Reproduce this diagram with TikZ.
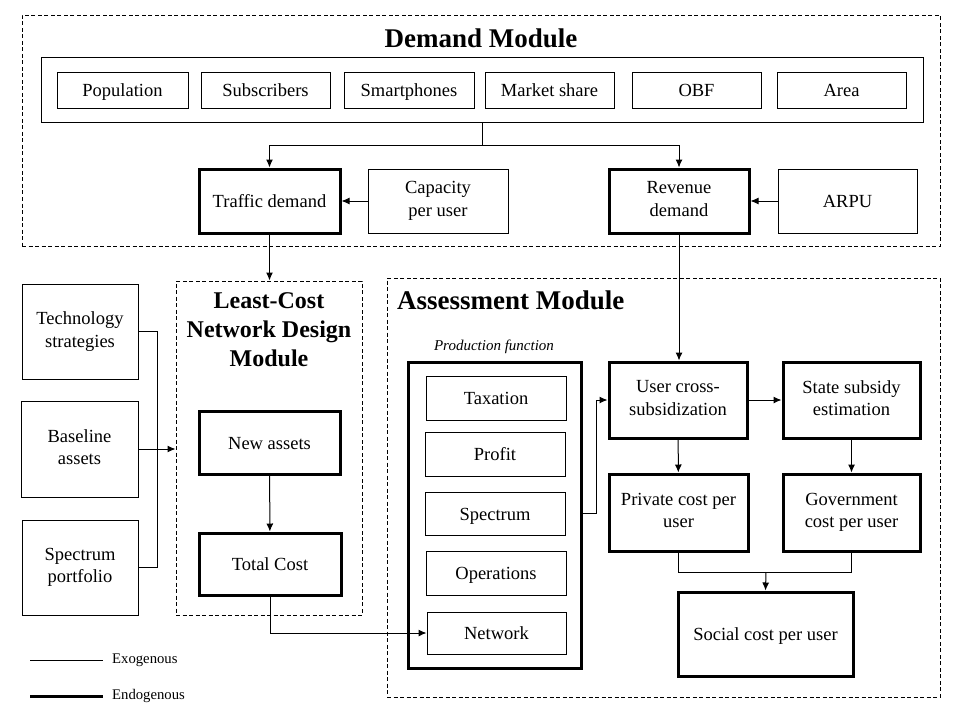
\documentclass[tikz,border=0pt]{standalone}
\usepackage{fontspec}
\setmainfont{Liberation Serif}
\usetikzlibrary{arrows.meta,positioning}
\newcommand\bodyfont{\fontsize{18.5}{22.5}\selectfont}
\newcommand\titlefont{\fontsize{27}{29}\selectfont\bfseries}
\newcommand\lcndfont{\fontsize{24}{29}\selectfont\bfseries}
\newcommand\smallfont{\fontsize{14.7}{17}\selectfont}
\newcommand\boxstrut{\rule[-4pt]{0pt}{21pt}}
\tikzset{
  size/.style 2 args={minimum width=#1pt, minimum height=#2pt},
  exo/.style={draw, line width=1pt, inner sep=0pt, align=center, font=\bodyfont,
    execute at begin node=\boxstrut, execute at end node=\boxstrut},
  endo/.style={exo, line width=3pt},
  module/.style={draw, line width=1pt, dash pattern=on 4pt off 2.5pt, inner sep=0pt},
  link/.style={line width=1pt, -{Latex[length=8pt,width=7pt]}},
  wire/.style={line width=1pt},
  title/.style={font=\titlefont, align=center, inner sep=0pt},
}
\begin{document}
\begin{tikzpicture}[x=1pt,y=-1pt]
  \useasboundingbox (0,0) rectangle (960,720);

  \node[module, size={918}{231}] (demand) at (481,130.5) {};
  \node[title] (demandtitle) at (481,38) {Demand Module};
  \node[exo, size={882}{65}] (inputs) at (482,89.5) {};
  \node[exo, size={131}{36}] (pop) at (122.5,90) {Population};
  \node[exo, size={129}{36}] (subs) at (265.5,90) {Subscribers};
  \node[exo, size={130}{36}] (smart) at (409,90) {Smartphones};
  \node[exo, size={129}{36}] (share) at (549.5,90) {Market share};
  \node[exo, size={129}{36}] (obf) at (696.5,90) {OBF};
  \node[exo, size={129}{36}] (area) at (841.5,90) {Area};

  \node[endo, size={141}{64}] (traffic) at (269.5,201) {Traffic demand};
  \node[exo, size={140}{64}] (capacity) at (438,201) {Capacity\\per user};
  \node[endo, size={140}{64}] (revenue) at (679,201) {Revenue\\demand};
  \node[exo, size={139}{64}] (arpu) at (847.5,201) {ARPU};

  \node[module, size={186}{334}] (lcnd) at (269,448) {};
  \node[title, font=\lcndfont] (lcndtitle) at (269,330) {Least-Cost\\Network Design\\Module};
  \node[endo, size={141}{63}] (newassets) at (269.5,442.5) {New assets};
  \node[endo, size={142}{62}] (total) at (270,564) {Total Cost};

  \node[exo, size={116}{95}] (tech) at (80,331.5) {Technology\\strategies};
  \node[exo, size={117}{96}] (base) at (79.5,449) {Baseline\\assets};
  \node[exo, size={116}{95}] (specport) at (80,567.5) {Spectrum\\portfolio};

  \node[module, size={553}{419}] (assess) at (663.5,487.5) {};
  \node[title, anchor=west] (assesstitle) at (397,300) {Assessment Module};
  \node[font=\fontsize{15}{17}\selectfont\itshape, inner sep=0pt] (prodlabel) at (494,347) {Production function};
  \node[endo, size={173}{306}] (prod) at (494.5,515) {};
  \node[exo, size={140}{44}] (tax) at (496,398) {Taxation};
  \node[exo, size={140}{44}] (profit) at (495,454) {Profit};
  \node[exo, size={140}{43}] (spectrum) at (495,513.5) {Spectrum};
  \node[exo, size={140}{44}] (ops) at (496,573) {Operations};
  \node[exo, size={139}{42}] (network) at (496.5,633) {Network};

  \node[endo, size={138}{76}] (user) at (678,400) {User cross-\\subsidization};
  \node[endo, size={137}{76}] (state) at (851.5,400) {State subsidy\\estimation};
  \node[endo, size={139}{77}] (private) at (678.5,512.5) {Private cost per\\user};
  \node[endo, size={137}{77}] (gov) at (851.5,512.5) {Government\\cost per user};
  \node[endo, size={175}{84}] (social) at (765.5,634) {Social cost per user};

  \coordinate (split) at (482,145);
  \coordinate (bus) at (157,449);
  \coordinate (join) at (766,572);

  \draw[wire] (inputs.south) -- (split);
  \draw[link] (split) -| (traffic.north);
  \draw[link] (split) -| (revenue.north);
  \draw[link] (capacity) -- (traffic);
  \draw[link] (arpu) -- (revenue);
  \draw[link] (traffic.south) -- (traffic.south |- lcnd.north);
  \draw[link] (revenue.south) -- (revenue.south |- user.north);

  \draw[wire] (tech.east) -| (bus);
  \draw[wire] (specport.east) -| (bus);
  \draw[link] (base.east) -- (lcnd.west |- base.east);
  \draw[link] (newassets) -- (total);
  \draw[link] (total.south) |- (network.west);

  \draw[link] (prod.east |- spectrum) -- +(14,0) |- (user.west);
  \draw[link] (user) -- (state);
  \draw[link] (user) -- (private);
  \draw[link] (state) -- (gov);
  \draw[wire] (private.south) |- (join);
  \draw[wire] (gov.south) |- (join);
  \draw[link] (join) -- (social.north);

  \coordinate (exoline) at (30,660);
  \coordinate (endoline) at (30,696);
  \node[font=\smallfont, anchor=west, inner sep=0pt] (exolab) at (112,660) {Exogenous};
  \node[font=\smallfont, anchor=west, inner sep=0pt] (endolab) at (112,696) {Endogenous};
  \draw[wire] (exoline) -- +(73,0);
  \draw[line width=3pt] (endoline) -- +(73,0);
\end{tikzpicture}
\end{document}
